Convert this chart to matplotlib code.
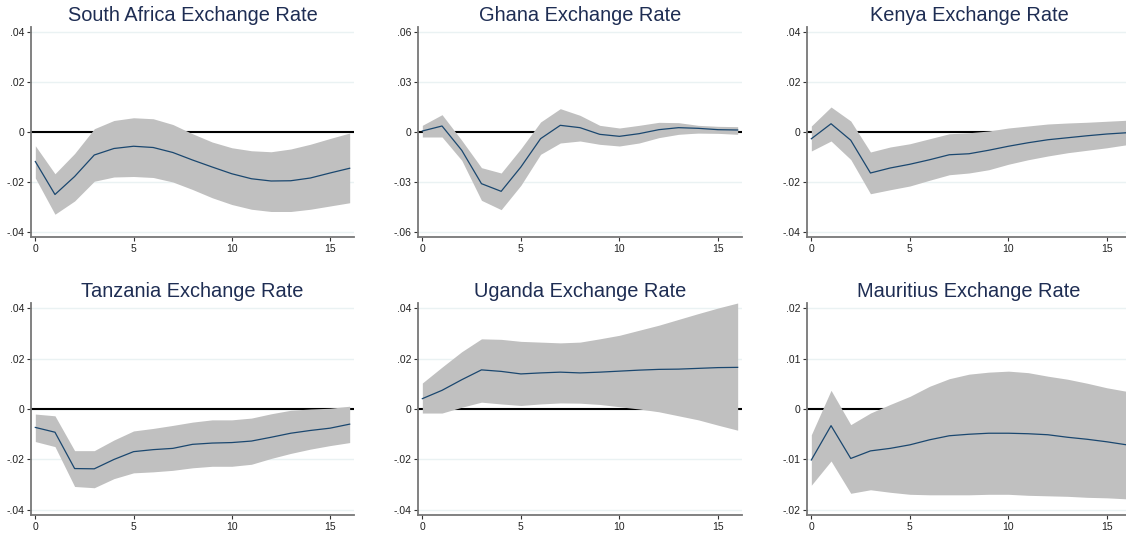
import matplotlib
matplotlib.use("Agg")
import matplotlib.pyplot as plt
from matplotlib.ticker import FixedLocator

plt.rcParams['font.family'] = ['Liberation Sans', 'DejaVu Sans']

horizon = list(range(17))

titles = ["South Africa Exchange Rate", "Ghana Exchange Rate", "Kenya Exchange Rate",
          "Tanzania Exchange Rate", "Uganda Exchange Rate", "Mauritius Exchange Rate"]

sa_irf = [-0.0118, -0.0250, -0.0178, -0.0092, -0.0066, -0.0057, -0.0062, -0.0082, -0.0112,
          -0.0140, -0.0167, -0.0187, -0.0196, -0.0195, -0.0184, -0.0164, -0.0145]
sa_hi = [-0.0055, -0.0167, -0.0086, 0.0013, 0.0046, 0.0057, 0.0053, 0.0030, -0.0007,
         -0.0040, -0.0063, -0.0075, -0.0079, -0.0068, -0.0049, -0.0026, -0.0004]
sa_lo = [-0.0184, -0.0329, -0.0276, -0.0197, -0.0180, -0.0178, -0.0182, -0.0200, -0.0230,
         -0.0263, -0.0290, -0.0309, -0.0318, -0.0318, -0.0309, -0.0296, -0.0283]

gh_irf = [0.0006, 0.0036, -0.0110, -0.0310, -0.0356, -0.0210, -0.0040, 0.0040, 0.0026,
          -0.0014, -0.0026, -0.0010, 0.0014, 0.0026, 0.0022, 0.0014, 0.0012]
gh_hi = [0.0040, 0.0104, -0.0050, -0.0214, -0.0246, -0.0100, 0.0060, 0.0140, 0.0100,
         0.0040, 0.0024, 0.0040, 0.0058, 0.0056, 0.0040, 0.0034, 0.0032]
gh_lo = [-0.0030, -0.0030, -0.0170, -0.0410, -0.0466, -0.0320, -0.0134, -0.0066, -0.0054,
         -0.0074, -0.0084, -0.0066, -0.0034, -0.0014, -0.0006, -0.0008, -0.0014]

ke_irf = [-0.0027, 0.0033, -0.0033, -0.0164, -0.0144, -0.0129, -0.0111, -0.0091, -0.0087,
          -0.0073, -0.0057, -0.0043, -0.0031, -0.0023, -0.0015, -0.0008, -0.0003]
ke_hi = [0.0024, 0.0100, 0.0044, -0.0080, -0.0060, -0.0047, -0.0027, -0.0007, -0.0003,
         0.0004, 0.0016, 0.0024, 0.0032, 0.0036, 0.0039, 0.0043, 0.0047]
ke_lo = [-0.0076, -0.0036, -0.0110, -0.0247, -0.0231, -0.0216, -0.0193, -0.0171, -0.0164,
         -0.0151, -0.0129, -0.0111, -0.0096, -0.0083, -0.0073, -0.0063, -0.0051]

tz_irf = [-0.0073, -0.0092, -0.0236, -0.0237, -0.0200, -0.0169, -0.0161, -0.0156, -0.0140,
          -0.0135, -0.0133, -0.0127, -0.0112, -0.0096, -0.0085, -0.0076, -0.0060]
tz_hi = [-0.0020, -0.0027, -0.0165, -0.0165, -0.0123, -0.0087, -0.0077, -0.0065, -0.0052,
         -0.0043, -0.0043, -0.0036, -0.0019, -0.0005, 0.0000, 0.0003, 0.0011]
tz_lo = [-0.0129, -0.0149, -0.0307, -0.0312, -0.0276, -0.0253, -0.0249, -0.0243, -0.0233,
         -0.0227, -0.0227, -0.0219, -0.0196, -0.0176, -0.0159, -0.0145, -0.0133]

ug_irf = [0.0041, 0.0074, 0.0116, 0.0155, 0.0149, 0.0139, 0.0143, 0.0146, 0.0143,
          0.0146, 0.0150, 0.0154, 0.0157, 0.0158, 0.0161, 0.0164, 0.0165]
ug_hi = [0.0103, 0.0166, 0.0227, 0.0278, 0.0276, 0.0268, 0.0265, 0.0262, 0.0265,
         0.0278, 0.0292, 0.0312, 0.0332, 0.0355, 0.0378, 0.0400, 0.0420]
ug_lo = [-0.0016, -0.0016, 0.0007, 0.0027, 0.0020, 0.0014, 0.0020, 0.0024, 0.0023,
         0.0018, 0.0009, 0.0000, -0.0011, -0.0027, -0.0043, -0.0064, -0.0084]

mu_irf = [-0.0101, -0.0033, -0.0098, -0.0083, -0.0078, -0.0071, -0.0061, -0.0053, -0.0050,
          -0.0048, -0.0048, -0.0049, -0.0051, -0.0056, -0.0060, -0.0065, -0.0071]
mu_hi = [-0.0051, 0.0037, -0.0031, -0.0008, 0.0009, 0.0025, 0.0045, 0.0060, 0.0069,
         0.0073, 0.0075, 0.0072, 0.0065, 0.0059, 0.0051, 0.0042, 0.0035]
mu_lo = [-0.0151, -0.0103, -0.0167, -0.0160, -0.0165, -0.0169, -0.0170, -0.0170, -0.0170,
         -0.0169, -0.0169, -0.0171, -0.0172, -0.0173, -0.0175, -0.0176, -0.0178]

yticks_a = [-0.04, -0.02, 0.0, 0.02, 0.04]
ylabels_a = ["-.04", "-.02", "0", ".02", ".04"]
yticks_g = [-0.06, -0.03, 0.0, 0.03, 0.06]
ylabels_g = ["-.06", "-.03", "0", ".03", ".06"]
yticks_m = [-0.02, -0.01, 0.0, 0.01, 0.02]
ylabels_m = ["-.02", "-.01", "0", ".01", ".02"]
xticks = [0, 5, 10, 15]

panels = [
    (sa_irf, sa_lo, sa_hi, yticks_a, ylabels_a),
    (gh_irf, gh_lo, gh_hi, yticks_g, ylabels_g),
    (ke_irf, ke_lo, ke_hi, yticks_a, ylabels_a),
    (tz_irf, tz_lo, tz_hi, yticks_a, ylabels_a),
    (ug_irf, ug_lo, ug_hi, yticks_a, ylabels_a),
    (mu_irf, mu_lo, mu_hi, yticks_m, ylabels_m),
]

W, H = 1126, 533
fig = plt.figure(figsize=(W / 100, H / 100), dpi=100)
col_lr = [(31, 354), (418, 742), (807, 1131)]
row_tb = [(27, 237), (303, 515)]

for i, (irf, lo, hi, yt, yl) in enumerate(panels):
    r, c = divmod(i, 3)
    l, rr = col_lr[c]
    t, b = row_tb[r]
    ax = fig.add_axes([l / W, 1 - b / H, (rr - l) / W, (b - t) / H])
    ax.set_facecolor('white')
    for y in yt:
        ax.axhline(y, color='#eaf2f3', lw=1.0, zorder=0)
    ax.axhline(0, color='black', lw=1.5, zorder=1)
    ax.fill_between(horizon, lo, hi, color='#c0c0c0', lw=0, zorder=2)
    ax.plot(horizon, irf, color='#1a476f', lw=0.9, zorder=3)
    span = yt[-1]
    ax.set_ylim(-span * 1.05, span * 1.05)
    ax.set_xlim(-0.22, 16.22)
    ax.yaxis.set_major_locator(FixedLocator(yt))
    ax.set_yticklabels(yl)
    ax.xaxis.set_major_locator(FixedLocator(xticks))
    ax.set_xticklabels([str(x) for x in xticks])
    for s in ['top', 'right']:
        ax.spines[s].set_visible(False)
    for s in ['left', 'bottom']:
        ax.spines[s].set_color('#777777')
        ax.spines[s].set_linewidth(1.3)
    ax.tick_params(axis='both', labelsize=7.5, colors='#333333', length=3, width=0.8,
                   labelcolor='#222222', pad=2)
    ax.set_title(titles[i], fontsize=14.4, color='#1e2d53', pad=4)

fig.savefig('out.png', dpi=100, facecolor='white')
